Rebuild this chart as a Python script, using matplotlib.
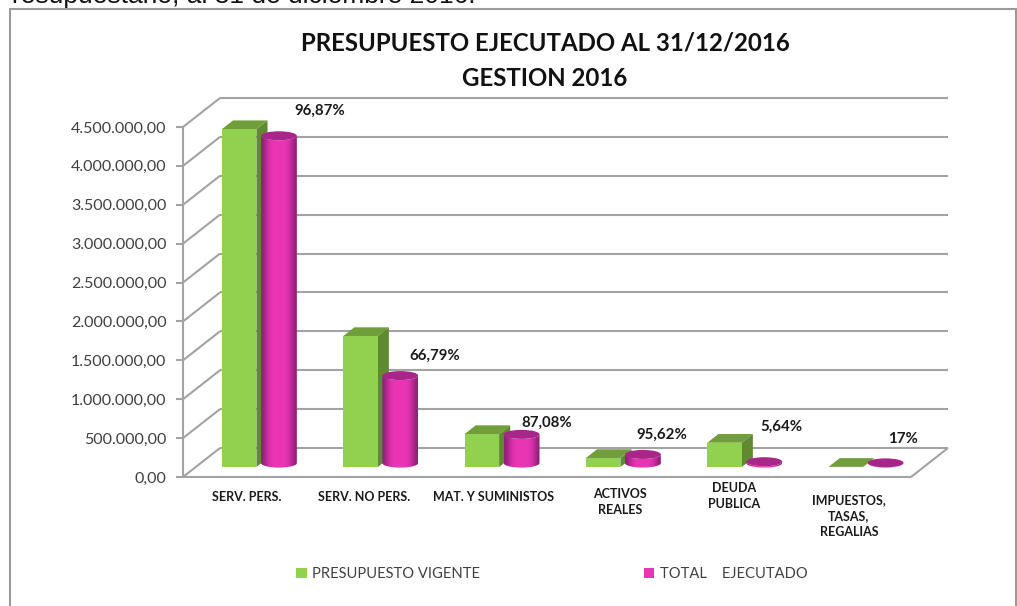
import matplotlib
matplotlib.use('Agg')
import matplotlib.pyplot as plt
from matplotlib.patches import Polygon, Patch, Ellipse, Rectangle
import numpy as np

categorias = ['SERV. PERS.', 'SERV. NO PERS.', 'MAT. Y SUMINISTOS',
              'ACTIVOS\nREALES', 'DEUDA\nPUBLICA', 'IMPUESTOS,\nTASAS,\nREGALIAS']
vigente = [4344000, 1684000, 424000, 116000, 312000, 2000]
ejecutado = [4208000, 1125000, 369000, 111000, 17600, 2500]
porcentajes = ['96,87%', '66,79%', '87,08%', '95,62%', '5,64%', '17%']
ticks = [0, 500000, 1000000, 1500000, 2000000, 2500000, 3000000, 3500000, 4000000, 4500000]
tick_labels = ['0,00', '500.000,00', '1.000.000,00', '1.500.000,00', '2.000.000,00',
               '2.500.000,00', '3.000.000,00', '3.500.000,00', '4.000.000,00', '4.500.000,00']

W, H = 1017, 606
VERDE, VERDE_TOP, VERDE_LADO = '#92d150', '#6f9e3a', '#5f8a30'
MAGENTA, MAGENTA_OSC, MAGENTA_TOP = '#e935b4', '#96207c', '#a8258a'
GRIS = '#a3a3a3'
BASE_FONT = ['Lato', 'DejaVu Sans']

fig = plt.figure(figsize=(W / 100, H / 100), dpi=100, facecolor='white')

# axes cover the front plane of the 3D box: x 183-911 px, y 127-477 px
ax = fig.add_axes([183 / W, 1 - 477 / H, 728 / W, 350 / H])
ax.set_xlim(0, 6)
ax.set_ylim(0, 4500000)
ax.patch.set_alpha(0)
for s in ax.spines.values():
    s.set_visible(False)

px_x = 6 / 728
px_y = 4500000 / 350
DX, DY = 37 * px_x, 29 * px_y  # full depth of the box, in data units


def pt(x, y, d=0.0):
    return x + d * DX, y + d * DY


def line(a, b, z=1, lw=1.5):
    ax.plot([a[0], b[0]], [a[1], b[1]], color=GRIS, lw=lw, clip_on=False,
            zorder=z, solid_capstyle='butt')


# walls and floor
for t in ticks:
    line(pt(0, t), pt(0, t, 1))
    line(pt(0, t, 1), pt(6, t, 1))
line(pt(0, 0), pt(6, 0))
line(pt(6, 0), pt(6, 0, 1))
line(pt(0, 0), pt(0, 4500000), z=2)

ax.set_xticks([])
ax.set_yticks(ticks)
ax.set_yticklabels(tick_labels, fontsize=11.5, color='#404040', family=BASE_FONT)
ax.tick_params(axis='y', length=5, width=1.5, color=GRIS, pad=7)

D0, D1 = 0.345, 0.645  # depth of the prism
BAR_X, BAR_W = 0.216, 0.284
CYL_X, CYL_R, CYL_D = 0.644, 0.148, 0.48
RY = 4.5 * px_y

# horizontal shade across a cylinder
shade = np.array([[0.0, 0.45, 0.85, 1.0, 1.0, 1.0, 1.0, 0.85, 0.45, 0.0]])
cmap = matplotlib.colors.LinearSegmentedColormap.from_list('cil', [MAGENTA_OSC, MAGENTA])

for i in range(len(categorias)):
    z = 5 + i * 3
    v = vigente[i]
    x0, x1 = i + BAR_X, i + BAR_X + BAR_W
    # prism: side, top, front
    ax.add_patch(Polygon([pt(x1, 0, D0), pt(x1, 0, D1), pt(x1, v, D1), pt(x1, v, D0)],
                         fc=VERDE_LADO, ec='none', zorder=z, clip_on=False))
    ax.add_patch(Polygon([pt(x0, v, D0), pt(x1, v, D0), pt(x1, v, D1), pt(x0, v, D1)],
                         fc=VERDE_TOP, ec='none', zorder=z, clip_on=False))
    ax.add_patch(Polygon([pt(x0, 0, D0), pt(x1, 0, D0), pt(x1, v, D0), pt(x0, v, D0)],
                         fc=VERDE, ec='none', zorder=z + 0.5, clip_on=False))

    # cylinder: gradient body clipped to its outline, then the cap
    e = ejecutado[i]
    cx, cy = pt(i + CYL_X, 0, CYL_D)
    a = np.linspace(np.pi, 2 * np.pi, 40)
    low = np.column_stack([cx + CYL_R * np.cos(a), cy + RY * np.sin(a)])
    high = np.column_stack([cx + CYL_R * np.cos(a[::-1]), cy + e + RY * np.sin(a[::-1])])
    body = Polygon(np.vstack([low, high]), closed=True, transform=ax.transData, fc='none', ec='none')
    ax.add_patch(body)
    body.set_clip_on(False)
    im = ax.imshow(shade, extent=[cx - CYL_R, cx + CYL_R, cy - RY, cy + e + RY], aspect='auto',
                   cmap=cmap, vmin=0, vmax=1, interpolation='bilinear', zorder=z + 1)
    im.set_clip_path(body)
    ax.add_patch(Ellipse((cx, cy + e), 2 * CYL_R, 2 * RY, fc=MAGENTA_TOP, ec='none',
                         zorder=z + 1.5, clip_on=False))

ax.set_xlim(0, 6)
ax.set_ylim(0, 4500000)

# percentage labels, pixel centres taken from the layout
pct_px = [(320, 111), (435, 356), (547, 423), (662, 435), (781, 427), (903, 439)]
for s, (px, py) in zip(porcentajes, pct_px):
    fig.text(px / W, 1 - py / H, s, ha='center', va='center', fontsize=10.8, fontweight='bold',
             color='#1a1a1a', family=BASE_FONT)

# category labels
cat_px = [(247, 497), (364, 497), (494, 497), (620, 502), (734, 496), (849, 516)]
for s, (px, py) in zip(categorias, cat_px):
    fig.text(px / W, 1 - py / H, s, ha='center', va='center', fontsize=9, fontweight='bold',
             color='#1a1a1a', family=BASE_FONT, linespacing=1.35)

fig.text(545 / W, 1 - 43 / H, 'PRESUPUESTO EJECUTADO AL 31/12/2016', ha='center', va='center',
         fontsize=17.3, fontweight='bold', color='#111111', family=BASE_FONT)
fig.text(545 / W, 1 - 78 / H, 'GESTION 2016', ha='center', va='center',
         fontsize=17.3, fontweight='bold', color='#111111', family=BASE_FONT)

# line of body text cut off by the top of the picture
fig.text(12 / W, 1 - 3 / H, 'resupuestario, al 31 de diciembre 2016.', ha='left', va='baseline',
         fontsize=19, color='#111111', family=['Liberation Sans', 'DejaVu Sans'])

# frame of the chart, open at the bottom edge
fig.add_artist(Rectangle((10 / W, -0.02), 1005.5 / W, 1 - 9 / H + 0.02, transform=fig.transFigure,
                         fc='none', ec='#9a9a9a', lw=1.5))

handles = [Patch(fc=VERDE, ec='none'), Patch(fc=MAGENTA, ec='none')]
fig.legend(handles, ['PRESUPUESTO VIGENTE', 'TOTAL    EJECUTADO'], ncol=2, frameon=False,
           loc='center', bbox_to_anchor=(552 / W, 1 - 574 / H),
           labelcolor='#404040', handlelength=0.7, handleheight=0.7, handletextpad=0.4,
           columnspacing=11.1, prop={'family': BASE_FONT, 'size': 10.6})

fig.savefig('out.png', dpi=100, facecolor='white')
